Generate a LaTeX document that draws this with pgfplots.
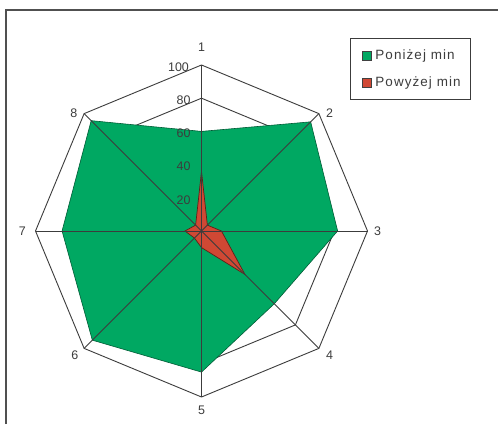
\documentclass[border=0pt]{standalone}
\usepackage{fontspec}
\setmainfont{Liberation Sans}
\usepackage{pgfplots}
\pgfplotsset{compat=1.18}
\usepgfplotslibrary{polar}
\definecolor{zielony}{RGB}{0,168,98}
\definecolor{czerwony}{RGB}{208,72,52}
\definecolor{siatka}{RGB}{60,60,60}
\definecolor{tekst}{RGB}{60,60,60}
\begin{document}
\begin{tikzpicture}[x=1bp,y=1bp]
\useasboundingbox (0,0) rectangle (498,424);
\fill[white] (0,0) rectangle (498,424);
\draw[siatka!90, line width=1.3bp] (6,0) -- (6,414) -- (498,414);
\begin{axis}[at={(201.5bp,193bp)}, anchor=origin,
  x=1.66bp, y=1.66bp,
  xmin=-100, xmax=100, ymin=-100, ymax=100,
  hide axis, clip=false, data cs=polar,
  legend style={at={(axis cs:89.3,116)}, anchor=north west,
    draw=siatka, line width=1bp, text=tekst,
    font=\fontsize{13.5}{15}\selectfont\addfontfeature{LetterSpace=8},
    inner xsep=8bp, inner ysep=9bp, row sep=12bp,
    legend cell align=left},
  legend image code/.code={\path (-4bp,0) (10.5bp,0); \draw[#1, draw=black!75, line width=0.8bp] (0bp,-4.5bp) rectangle (9bp,4.5bp);},
]
% grid octagons
\addplot[siatka, line width=0.9bp, forget plot] coordinates {(90,100)(45,100)(0,100)(-45,100)(-90,100)(-135,100)(180,100)(135,100)(90,100)};
\addplot[siatka, line width=0.9bp, forget plot] coordinates {(90,80)(45,80)(0,80)(-45,80)(-90,80)(-135,80)(180,80)(135,80)(90,80)};
\addplot[siatka, line width=0.9bp, forget plot] coordinates {(90,60)(45,60)(0,60)(-45,60)(-90,60)(-135,60)(180,60)(135,60)(90,60)};
\addplot[siatka, line width=0.9bp, forget plot] coordinates {(90,40)(45,40)(0,40)(-45,40)(-90,40)(-135,40)(180,40)(135,40)(90,40)};
\addplot[siatka, line width=0.9bp, forget plot] coordinates {(90,20)(45,20)(0,20)(-45,20)(-90,20)(-135,20)(180,20)(135,20)(90,20)};
% Ponizej min
\addplot[fill=zielony, draw=zielony!55!black, line width=0.6bp] coordinates {(90,60)(45,93)(0,82)(-45,62)(-90,85)(-135,93)(180,84)(135,94)(90,60)};
\addlegendentry{Poniżej min}
% Powyzej min
\addplot[fill=czerwony, draw=czerwony!45!black, line width=0.7bp] coordinates {(90,36)(45,5)(0,12)(-45,37)(-90,10)(-135,6)(180,10)(135,5)(90,36)};
\addlegendentry{Powyżej min}
% spokes
\addplot[siatka, line width=0.9bp, forget plot] coordinates {(90,100)(-90,100)};
\addplot[siatka, line width=0.9bp, forget plot] coordinates {(0,100)(180,100)};
\addplot[siatka, line width=0.9bp, forget plot] coordinates {(45,100)(-135,100)};
\addplot[siatka, line width=0.9bp, forget plot] coordinates {(135,100)(-45,100)};
% value labels
\begin{scope}[every node/.style={inner sep=0pt, text=tekst, font=\fontsize{12.5}{14}\selectfont}]
\node[anchor=east, yshift=-2bp] at (axis cs:-7.5,100) {100};
\node[anchor=east, yshift=-2bp] at (axis cs:-6.5,80) {80};
\node[anchor=east, yshift=-2bp] at (axis cs:-6.5,60) {60};
\node[anchor=east, yshift=-2bp] at (axis cs:-6.5,40) {40};
\node[anchor=east, yshift=-2bp] at (axis cs:-6.5,20) {20};
% category labels
\node[anchor=south, yshift=13bp] at (axis cs:0,100) {1};
\node[anchor=west, xshift=7bp] at (axis cs:70.71,70.71) {2};
\node[anchor=west, xshift=6.5bp] at (axis cs:100,0) {3};
\node[anchor=west, xshift=7bp, yshift=-6.5bp] at (axis cs:70.71,-70.71) {4};
\node[anchor=north, yshift=-8.5bp] at (axis cs:0,-100) {5};
\node[anchor=east, xshift=-5.5bp, yshift=-6.5bp] at (axis cs:-70.71,-70.71) {6};
\node[anchor=east, xshift=-9.5bp] at (axis cs:-100,0) {7};
\node[anchor=east, xshift=-6.5bp] at (axis cs:-70.71,70.71) {8};
\end{scope}
\end{axis}
\end{tikzpicture}
\end{document}
